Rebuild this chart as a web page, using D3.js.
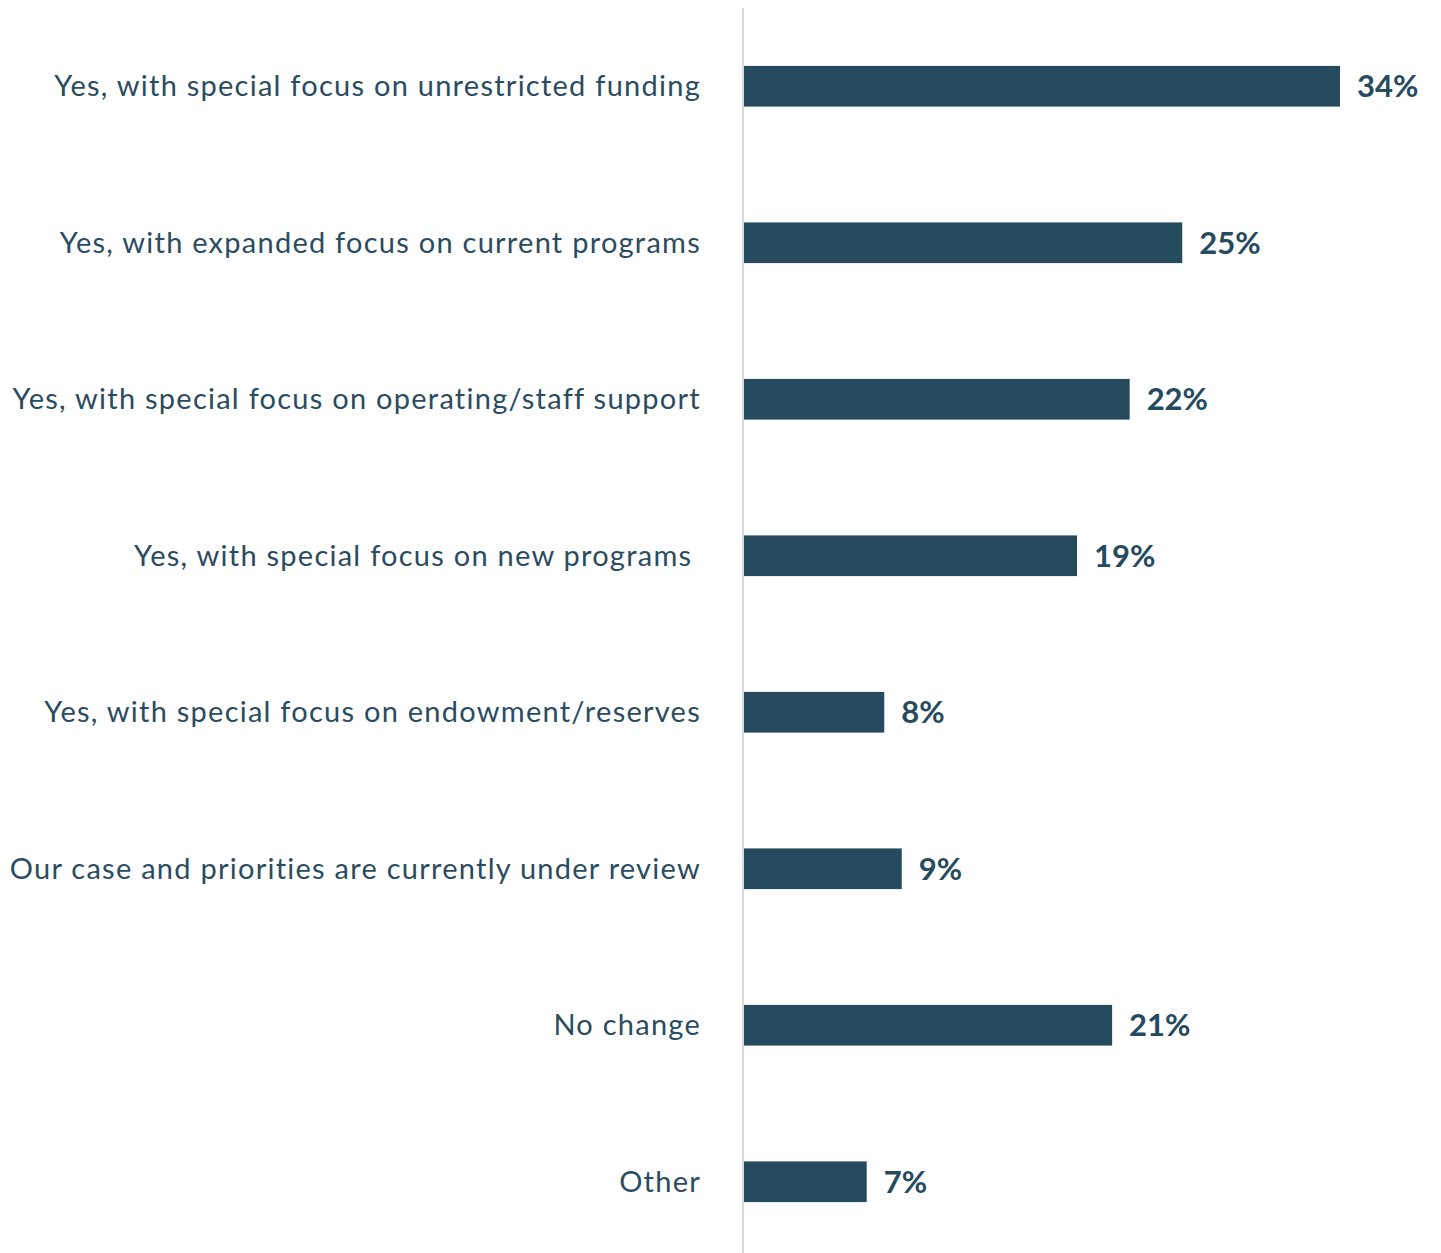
<!DOCTYPE html>
<html>
<head>
<meta charset="utf-8">
<script src="https://cdn.jsdelivr.net/npm/d3@7/dist/d3.min.js"></script>
<style>
  html, body { margin: 0; padding: 0; background: #ffffff; }
  svg { display: block; }
</style>
</head>
<body>
<svg id="chart" width="1441" height="1253"></svg>
<script>
// Responses: has the case for support changed?
const categories = [
  "Yes, with special focus on unrestricted funding",
  "Yes, with expanded focus on current programs",
  "Yes, with special focus on operating/staff support",
  "Yes, with special focus on new programs ",
  "Yes, with special focus on endowment/reserves",
  "Our case and priorities are currently under review",
  "No change",
  "Other"
];
const values = [34, 25, 22, 19, 8, 9, 21, 7];
const valueLabels = ["34%", "25%", "22%", "19%", "8%", "9%", "21%", "7%"];

const svg = d3.select("#chart");
const barColor = "#264A5E";
const textColor = "#2B4C60";

const x0 = 744;
const x = d3.scaleLinear().domain([0, 34]).range([x0, x0 + 596]);
const y = d3.scaleBand()
  .domain(categories)
  .range([8, 1260])
  .paddingInner(0.74)
  .paddingOuter(0.37);

// bars
svg.append("g").selectAll("rect")
  .data(values)
  .join("rect")
  .attr("x", x(0))
  .attr("y", (d, i) => y(categories[i]))
  .attr("width", d => x(d) - x(0))
  .attr("height", y.bandwidth())
  .attr("fill", barColor);

// vertical baseline
svg.append("line")
  .attr("x1", x0 - 1).attr("x2", x0 - 1)
  .attr("y1", 8).attr("y2", 1253)
  .attr("stroke", "#D9D9D9")
  .attr("stroke-width", 2);

// category labels
svg.append("g").selectAll("text")
  .data(categories)
  .join("text")
  .attr("x", 701)
  .attr("y", d => y(d) + y.bandwidth() / 2)
  .attr("dy", "0.35em")
  .attr("text-anchor", "end")
  .style("white-space", "pre")
  .attr("letter-spacing", 1.25)
  .attr("font-family", "Lato, 'Open Sans', sans-serif")
  .attr("font-size", 29)
  .attr("fill", textColor)
  .text(d => d);

// value labels
svg.append("g").selectAll("text")
  .data(values)
  .join("text")
  .attr("x", d => x(d) + 17)
  .attr("y", (d, i) => y(categories[i]) + y.bandwidth() / 2)
  .attr("dy", "0.36em")
  .attr("font-family", "Lato, 'Open Sans', sans-serif")
  .attr("font-weight", "bold")
  .attr("font-size", 31)
  .attr("fill", barColor)
  .text((d, i) => valueLabels[i]);
</script>
</body>
</html>
